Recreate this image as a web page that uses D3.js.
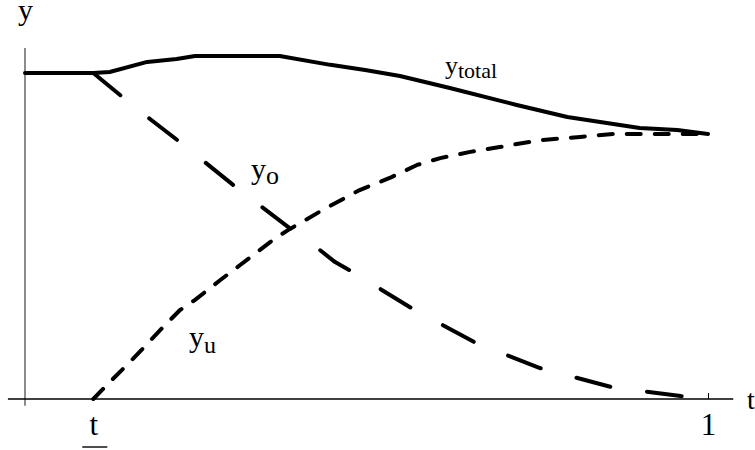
<!DOCTYPE html>
<html>
<head>
<meta charset="utf-8">
<script src="https://cdn.jsdelivr.net/npm/d3@7"></script>
<style>
  body { margin: 0; background: #fff; }
  svg text { font-family: "Liberation Serif", "Times New Roman", serif; fill: #000; }
</style>
</head>
<body>
<svg width="755" height="450"></svg>
<script>
// t values and curves (t in [0,1], y relative to the start level)
const totalT = [0, 0.1, 0.124, 0.179, 0.222, 0.249, 0.373, 0.447, 0.498, 0.549, 0.622, 0.72, 0.794, 0.9, 0.955, 1]
const totalY = [1, 1, 1.003, 1.034, 1.043, 1.052, 1.052, 1.025, 1.009, 0.991, 0.954, 0.902, 0.865, 0.831, 0.825, 0.813]

const oldT = [0.1, 0.143, 0.183, 0.225, 0.307, 0.387, 0.43, 0.454, 0.477, 0.568, 0.66, 0.754, 0.858, 0.96, 1]
const oldY = [1, 0.926, 0.859, 0.791, 0.653, 0.525, 0.46, 0.42, 0.393, 0.276, 0.172, 0.095, 0.037, 0.009, 0.003]

const newT = [0.1, 0.127, 0.158, 0.201, 0.227, 0.249, 0.286, 0.315, 0.363, 0.385, 0.436, 0.49, 0.534, 0.574, 0.608, 0.652, 0.695, 0.754, 0.813, 0.861, 1]
const newY = [0, 0.058, 0.123, 0.218, 0.273, 0.304, 0.365, 0.411, 0.488, 0.518, 0.58, 0.641, 0.678, 0.718, 0.739, 0.758, 0.773, 0.794, 0.804, 0.813, 0.813]

const tickVals = [0.1, 1]
const tickNames = ["t", "1"]

let svg = d3.select("svg")
let x = d3.scaleLinear().domain([0, 1]).range([25, 708])
let y = d3.scaleLinear().domain([0, 1]).range([399, 73])

//axes lines
svg.append("line")
  .attr("x1", x(0)).attr("x2", x(0))
  .attr("y1", y(1.077)).attr("y2", y(-0.021))
  .attr("stroke", "#666").attr("stroke-width", 1.5)
svg.append("line")
  .attr("x1", x(-0.025)).attr("x2", x(1.037))
  .attr("y1", y(0)).attr("y2", y(0))
  .attr("stroke", "#000").attr("stroke-width", 1.3)

//ticks
let ax = svg.append("g").attr("transform", `translate(0,${y(0)})`)
  .call(d3.axisBottom(x).tickValues(tickVals)
    .tickFormat((d, i) => tickNames[i])
    .tickSizeInner(-6).tickSizeOuter(0).tickPadding(14))
ax.select(".domain").remove()
ax.selectAll(".tick line").attr("stroke", "#000").attr("stroke-width", 1)
  .attr("opacity", d => d == 1 ? 1 : 0)
ax.selectAll(".tick text").attr("font-size", 31)
  .attr("font-family", "Liberation Serif").attr("fill", "#000")
//underline for t
svg.append("line")
  .attr("x1", x(0.1) - 11).attr("x2", x(0.1) + 14)
  .attr("y1", 447).attr("y2", 447)
  .attr("stroke", "#000").attr("stroke-width", 1.4)

//axis names
svg.append("text").attr("x", 18).attr("y", 20).attr("font-size", 30).text("y")
svg.append("text").attr("x", 747).attr("y", 409).attr("font-size", 28).text("t")

//curves
const line = d3.line().x(d => x(d[0])).y(d => y(d[1]))
const curves = [
  {t: totalT, v: totalY, dash: null},
  {t: oldT, v: oldY, dash: "35,37"},
  {t: newT, v: newY, dash: "14,14"}
]
svg.selectAll("path.curve").data(curves).enter().append("path")
  .attr("class", "curve")
  .attr("d", c => line(c.t.map((t, i) => [t, c.v[i]])))
  .attr("fill", "none").attr("stroke", "#000").attr("stroke-width", 4)
  .attr("stroke-linecap", "round").attr("stroke-linejoin", "round")
  .attr("stroke-dasharray", c => c.dash)

//curve labels
const label = (px, py, main, sub, fs, sfs, dy) => {
  let tx = svg.append("text").attr("x", px).attr("y", py)
  tx.append("tspan").attr("font-size", fs).text(main)
  tx.append("tspan").attr("font-size", sfs).attr("dy", dy).text(sub)
}
label(445, 74, "y", "total", 26, 22, 4)
label(251, 179, "y", "o", 30, 26, 5)
label(189, 347, "y", "u", 30, 24, 6)
</script>
</body>
</html>
